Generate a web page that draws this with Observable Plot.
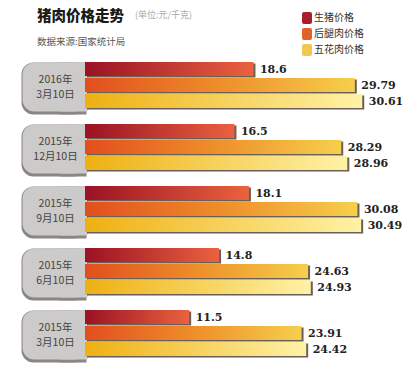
<!DOCTYPE html>
<html><head><meta charset="utf-8">
<script src="https://cdn.jsdelivr.net/npm/d3@7"></script>
<script src="https://cdn.jsdelivr.net/npm/@observablehq/plot@0.6"></script>
<style>
body{margin:0;background:#fff;font-family:"Noto Sans CJK SC",sans-serif;}
#wrap{position:relative;width:402px;height:377px;overflow:hidden;}
.t{position:absolute;white-space:nowrap;}
#chart{position:absolute;left:0;top:55px;}
.sw{position:absolute;width:10px;height:12px;border-radius:2px;}
</style></head>
<body><div id="wrap">
<div class="t" style="left:37px;top:4px;font-size:14.5px;font-weight:900;color:#1a1a1a;">猪肉价格走势</div>
<div class="t" style="left:135px;top:8px;font-size:9px;color:#aaa;">(单位:元/千克)</div>
<div class="t" style="left:37px;top:34px;font-size:9.5px;color:#555;">数据来源:国家统计局</div>
<div id="legend"></div>
<div id="chart"></div>
</div>
<script>
const dates = ["2016年\n3月10日", "2015年\n12月10日", "2015年\n9月10日", "2015年\n6月10日", "2015年\n3月10日"];
const seriesNames = ["生猪价格", "后腿肉价格", "五花肉价格"];
const hogPrice = [18.6, 16.5, 18.1, 14.8, 11.5];
const hindLegPrice = [29.79, 28.29, 30.08, 24.63, 23.91];
const porkBellyPrice = [30.61, 28.96, 30.49, 24.93, 24.42];
const legendColors = ["#a81e2a", "#e0622a", "#f0c850"];
const gradIds = ["gRed", "gOrange", "gYellow"];

const seriesValues = [hogPrice, hindLegPrice, porkBellyPrice];
const rows = [];
dates.forEach((d, i) => seriesNames.forEach((s, j) => rows.push({date: d, series: s, value: seriesValues[j][i], k: j})));

// legend
const leg = document.getElementById("legend");
seriesNames.forEach((s, j) => {
  const sw = document.createElement("div");
  sw.className = "sw"; sw.style.left = "302px"; sw.style.top = (12 + 16 * j) + "px"; sw.style.background = legendColors[j];
  leg.appendChild(sw);
  const t = document.createElement("div");
  t.className = "t"; t.style.left = "314px"; t.style.top = (9 + 16 * j) + "px";
  t.style.fontSize = "10px"; t.style.color = "#333"; t.textContent = s;
  leg.appendChild(t);
});

const barMarks = seriesNames.map((s, j) => Plot.barX(rows, {filter: d => d.k === j, x: "value", y: "series", fill: `url(#${gradIds[j]})`}));
const box = (fill, opts) => [
  Plot.frame({fill, stroke: null, rx: 12, ...opts}),
  Plot.frame({fill, stroke: null, ...opts, insetLeft: -25})
];

const plot = Plot.plot({
  width: 402, height: 322,
  marginLeft: 85, marginRight: 0, marginTop: 5, marginBottom: 20,
  x: {domain: [0, 35], axis: null},
  y: {domain: seriesNames, axis: null, paddingInner: 0.1, paddingOuter: 0},
  fy: {domain: dates, axis: null, paddingInner: 0.23, paddingOuter: 0},
  facet: {data: rows, y: "date"},
  marks: [
    ...box("#8a8684", {insetLeft: -63, insetRight: 315, insetTop: 1, insetBottom: -5, dx: -1}),
    ...box("#cdcaca", {insetLeft: -63, insetRight: 315, insetTop: 1, insetBottom: -2}),
    Plot.barX(rows, {x: "value", y: "series", fill: "#3a2a22", fillOpacity: 0.75, dx: 2, dy: 1.5}),
    ...barMarks,
    Plot.text(rows, {filter: d => d.k === 1, text: "date", frameAnchor: "left", dx: -30, textAnchor: "middle", fontSize: 10.5, lineHeight: 1.45, fill: "#444", fontFamily: "Noto Sans CJK SC"}),
    Plot.text(rows, {x: "value", y: "series", text: d => String(d.value), dx: 6, textAnchor: "start", fontSize: 11, fontWeight: "bold", fontFamily: "DejaVu Serif", fill: "#222"})
  ]
});

const defs = `
<linearGradient id="gRed" x1="0" x2="1" y1="0" y2="0"><stop offset="0" stop-color="#9a1224"/><stop offset="1" stop-color="#ea623e"/></linearGradient>
<linearGradient id="gOrange" x1="0" x2="1" y1="0" y2="0"><stop offset="0" stop-color="#e24e1e"/><stop offset="0.5" stop-color="#ee8e2a"/><stop offset="1" stop-color="#f6cf4c"/></linearGradient>
<linearGradient id="gYellow" x1="0" x2="1" y1="0" y2="0"><stop offset="0" stop-color="#eeb012"/><stop offset="1" stop-color="#fff2a6"/></linearGradient>`;
const d = document.createElementNS("http://www.w3.org/2000/svg", "defs");
d.innerHTML = defs;
plot.insertBefore(d, plot.firstChild);
document.getElementById("chart").appendChild(plot);
</script>
</body></html>
